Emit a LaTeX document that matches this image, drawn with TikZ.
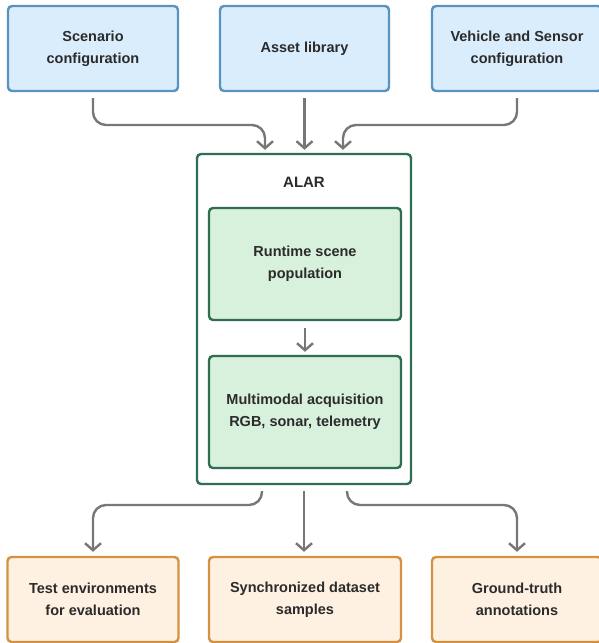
\documentclass[tikz,border=0pt]{standalone}
\usepackage{fontspec}
\setmainfont{Liberation Sans}
\usetikzlibrary{arrows.meta,calc}
\definecolor{bluefill}{HTML}{DAEDFC}
\definecolor{blueline}{HTML}{5B93BF}
\definecolor{greenfill}{HTML}{D7F1DC}
\definecolor{greenline}{HTML}{2F6E50}
\definecolor{orangefill}{HTML}{FEF1E2}
\definecolor{orangeline}{HTML}{D4913F}
\definecolor{arrgray}{HTML}{777777}
\definecolor{txt}{HTML}{2B2B2B}
\tikzset{
  box/.style={rounded corners=4pt, line width=2.4pt, align=center, inner sep=0pt,
    font=\fontsize{14.5}{22}\selectfont\bfseries, text=txt},
  inbox/.style={box, draw=blueline, fill=bluefill, minimum height=85pt},
  stage/.style={box, draw=greenline, fill=greenfill, minimum width=192pt, minimum height=112pt},
  outbox/.style={box, draw=orangeline, fill=orangefill, minimum height=85pt},
  frame/.style={rounded corners=4pt, line width=2.4pt, draw=greenline, fill=white,
    minimum width=214pt, minimum height=330pt, inner sep=0pt},
  arr/.style={draw=arrgray, line width=2.4pt, rounded corners=13pt,
    -{Straight Barb[length=7pt,width=16pt,line width=2.4pt]}},
}
\begin{document}
\begin{tikzpicture}[x=1pt,y=-1pt]
\useasboundingbox (0,0) rectangle (599,643);
\clip (0,0) rectangle (599,643);
% inputs
\node[inbox, minimum width=170pt] (scen) at (93,48.5) {Scenario\\configuration};
\node[inbox, minimum width=169pt] (asset) at (304.5,48.5) {Asset library};
\node[inbox, minimum width=170pt] (veh) at (517,48.5) {Vehicle and Sensor\\configuration};
% ALAR frame
\node[frame] (alar) at (304,319) {};
\node[box, font=\fontsize{15}{18}\selectfont\bfseries] (alartitle) at (304,182) {ALAR};
\node[stage] (pop) at (305,264) {Runtime scene\\population};
\node[stage] (acq) at (305,412) {Multimodal acquisition\\RGB, sonar, telemetry};
% outputs
\node[outbox, minimum width=171pt] (test) at (93,599.5) {Test environments\\for evaluation};
\node[outbox, minimum width=192pt] (sync) at (305,599.5) {Synchronized dataset\\samples};
\node[outbox, minimum width=170pt] (gt) at (517,599.5) {Ground-truth\\annotations};
% coordinates
\coordinate (inL) at ($(alar.north)+(-39,0)$);
\coordinate (inR) at ($(alar.north)+(39,0)$);
\coordinate (outL) at ($(alar.south)+(-42,0)$);
\coordinate (outR) at ($(alar.south)+(43,0)$);
% input arrows
\draw[arr, shorten <=6pt, shorten >=3pt] (scen.south) -- (scen.south |- 0,125) -- (inL |- 0,125) -- (inL);
\draw[arr, shorten <=6pt, shorten >=3pt] (asset.south) -- (asset.south |- alar.north);
\draw[arr, shorten <=6pt, shorten >=3pt] (veh.south) -- (veh.south |- 0,125) -- (inR |- 0,125) -- (inR);
% internal
\draw[arr, shorten <=7pt, shorten >=3pt] (pop.south) -- (acq.north);
% output arrows
\draw[arr, shorten <=6pt, shorten >=4pt] (outL) -- (outL |- 0,505) -- (test.north |- 0,505) -- (test.north);
\draw[arr, shorten <=6pt, shorten >=4pt] (alar.south) -- (alar.south |- sync.north);
\draw[arr, shorten <=6pt, shorten >=4pt] (outR) -- (outR |- 0,505) -- (gt.north |- 0,505) -- (gt.north);
\end{tikzpicture}
\end{document}
